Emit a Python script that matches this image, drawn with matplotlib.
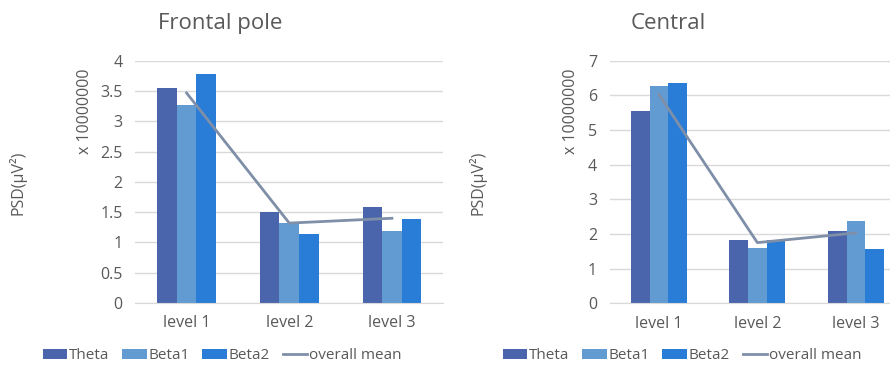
import numpy as np
import matplotlib
matplotlib.use("Agg")
import matplotlib.pyplot as plt

plt.rcParams["font.family"] = ["Open Sans", "DejaVu Sans"]

levels = ["level 1", "level 2", "level 3"]
bands = ["Theta", "Beta1", "Beta2"]

# PSD in units of 1e7 uV^2
frontal_theta = [3.56, 1.51, 1.59]
frontal_beta1 = [3.27, 1.32, 1.19]
frontal_beta2 = [3.78, 1.14, 1.38]
frontal_mean = [3.47, 1.32, 1.40]

central_theta = [5.55, 1.82, 2.09]
central_beta1 = [6.27, 1.59, 2.38]
central_beta2 = [6.36, 1.82, 1.58]
central_mean = [6.02, 1.75, 2.03]

BAR_COLORS = ["#4A65AB", "#619BD2", "#2A7DD6"]
MEAN_COLOR = "#7F8FA8"
TXT = "#595959"
GRID = "#D9D9D9"

fig = plt.figure(figsize=(8.9, 3.65), dpi=100)


def panel(rect, title, series, mean, ymax, ystep, title_x, lab_x, mul_x):
    ax = fig.add_axes(rect)
    x = np.arange(len(levels))
    w = 0.19
    for i, (vals, c) in enumerate(zip(series, BAR_COLORS)):
        ax.bar(x + (i - 1) * w, vals, width=w, color=c, label=bands[i], zorder=2)
    ax.plot(x, mean, color=MEAN_COLOR, lw=2, label="overall mean", zorder=3)
    ax.set_xlim(-0.5, 2.5)
    ax.set_ylim(0, ymax)
    ticks = np.arange(0, ymax + ystep / 2, ystep)
    ax.set_yticks(ticks)
    ax.set_yticklabels([f"{v:g}" for v in ticks])
    ax.set_xticks(x)
    ax.set_xticklabels(levels)
    ax.grid(axis="y", color=GRID, lw=1, zorder=0)
    for s in ("top", "right", "left"):
        ax.spines[s].set_visible(False)
    ax.spines["bottom"].set_color(GRID)
    ax.tick_params(length=0, colors=TXT, labelsize=11.5, pad=9)
    ax.tick_params(axis="x", pad=9)
    fig.text(title_x, 0.935, title, fontsize=16, color=TXT, va="center")
    fig.text(lab_x, 0.50, "PSD(μV²)", rotation=90, fontsize=11.5, color=TXT, va="center", ha="center")
    fig.text(mul_x, 0.695, "x 10000000", rotation=90, fontsize=11.5, color=TXT, va="center", ha="center")
    return ax


ax1 = panel([0.152, 0.170, 0.346, 0.663], "Frontal pole",
            [frontal_theta, frontal_beta1, frontal_beta2], frontal_mean, 4, 0.5,
            158 / 890, 18 / 890, 85 / 890)
ax2 = panel([0.685, 0.169, 0.332, 0.665], "Central",
            [central_theta, central_beta1, central_beta2], central_mean, 7, 1,
            631 / 890, 478 / 890, 571 / 890)

for ax, cx in ((ax1, 222 / 890), (ax2, 682 / 890)):
    h, l = ax.get_legend_handles_labels()
    h = h[1:] + h[:1]
    l = l[1:] + l[:1]
    fig.legend(h, l, loc="center", bbox_to_anchor=(cx, 0.025), ncol=4, frameon=False,
               fontsize=11, handlelength=1.6, handleheight=0.55, handletextpad=0.1,
               columnspacing=0.85, labelcolor=TXT, borderaxespad=0)

fig.savefig("out.png", dpi=100, facecolor="white")
